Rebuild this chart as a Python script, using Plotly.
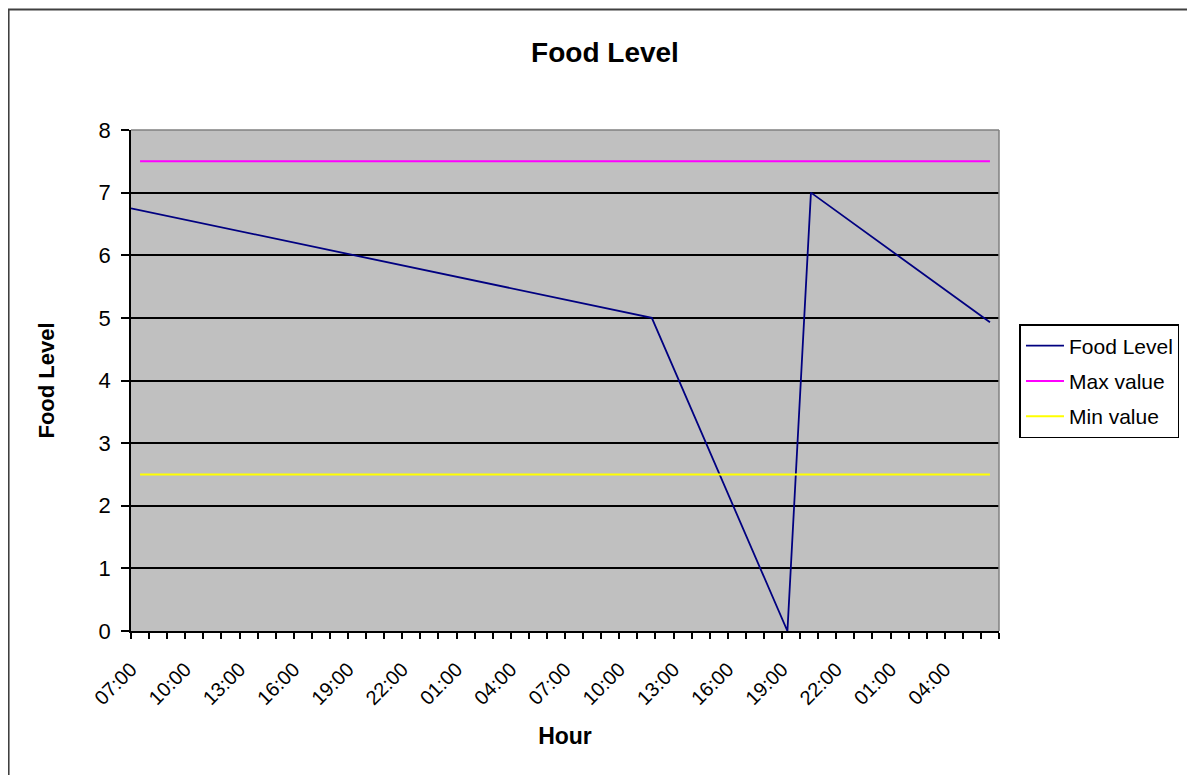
import plotly.graph_objects as go

# ---- data ----
hour_categories = [
    "07:00", "08:00", "09:00", "10:00", "11:00", "12:00", "13:00", "14:00",
    "15:00", "16:00", "17:00", "18:00", "19:00", "20:00", "21:00", "22:00",
    "23:00", "00:00", "01:00", "02:00", "03:00", "04:00", "05:00", "06:00",
    "07:00", "08:00", "09:00", "10:00", "11:00", "12:00", "13:00", "14:00",
    "15:00", "16:00", "17:00", "18:00", "19:00", "20:00", "21:00", "22:00",
    "23:00", "00:00", "01:00", "02:00", "03:00", "04:00", "05:00", "06:00",
]
tick_positions = [0, 3, 6, 9, 12, 15, 18, 21, 24, 27, 30, 33, 36, 39, 42, 45]
tick_labels = ["07:00", "10:00", "13:00", "16:00", "19:00", "22:00", "01:00", "04:00",
               "07:00", "10:00", "13:00", "16:00", "19:00", "22:00", "01:00", "04:00"]

# Food level vertices (x in hours from first category)
food_x = [-0.5, 28.3, 35.8, 37.1, 47.0]
food_y = [6.75, 5.0, 0.0, 7.0, 4.93]

category_index = list(range(len(hour_categories)))
max_values = [7.5] * len(hour_categories)
min_values = [2.5] * len(hour_categories)

FONT = "Liberation Sans, Arial, sans-serif"

fig = go.Figure()
fig.add_trace(go.Scatter(x=food_x, y=food_y, mode="lines", name="Food Level",
                         legendgroup="a",
                         line=dict(color="#000080", width=1.8)))
fig.add_trace(go.Scatter(x=category_index, y=max_values, mode="lines", name="Max value",
                         legendgroup="b",
                         line=dict(color="#FF00FF", width=2)))
fig.add_trace(go.Scatter(x=category_index, y=min_values, mode="lines", name="Min value",
                         legendgroup="c",
                         line=dict(color="#FFFF00", width=2)))

# page has an 8px body margin: figure origin is at (8, 8)
W, H = 1187, 767
L, T = 123, 122
R = W - (999.5 - 8)
B = H - (631 - 8)
pw = W - L - R
ph = H - T - B

label_shift = -0.499  # Excel-like placement of rotated labels

fig.update_layout(
    width=W, height=H,
    margin=dict(l=L, r=R, t=T, b=B, pad=0),
    paper_bgcolor="white",
    plot_bgcolor="#C0C0C0",
    font=dict(family=FONT, size=20, color="black"),
    title=dict(text="<b>Food Level</b>", x=(605 - 8) / W, xanchor="center",
               y=1 - (52 - 8) / H, yanchor="middle",
               font=dict(family=FONT, size=28, color="black")),
    showlegend=True,
    legend=dict(x=(1020 - 8 - L) / pw, y=1 - (324 - 8 - T) / ph,
                xanchor="left", yanchor="top",
                bgcolor="white", bordercolor="black", borderwidth=1.5,
                font=dict(family=FONT, size=21, color="black"),
                itemwidth=38, tracegroupgap=5),
    xaxis=dict(
        range=[-0.5, 47.5],
        tickmode="array", tickvals=[p + label_shift for p in tick_positions],
        ticktext=tick_labels,
        tickangle=-45, ticks="", showgrid=False, zeroline=False,
        showline=True, linecolor="black", linewidth=1.5,
        minor=dict(ticks="outside", tick0=-0.5, dtick=1, ticklen=6,
                   tickcolor="black", tickwidth=1.5, showgrid=False),
        tickfont=dict(family=FONT, size=20, color="black"),
        ticklabelstandoff=17,
        title=dict(text="<b>Hour</b>", standoff=20,
                   font=dict(family=FONT, size=23, color="black")),
    ),
    yaxis=dict(
        range=[0, 8], dtick=1, tick0=0,
        ticks="outside", ticklen=8, tickcolor="black", tickwidth=1.5,
        showgrid=True, gridcolor="black", gridwidth=1.5, zeroline=False,
        showline=True, linecolor="black", linewidth=1.5,
        tickfont=dict(family=FONT, size=22, color="black"),
        ticklabelstandoff=6,
        title=dict(text="<b>Food Level</b>", standoff=38,
                   font=dict(family=FONT, size=22, color="black")),
    ),
    shapes=[
        # plot area border (top/right grey)
        dict(type="line", xref="paper", yref="paper", x0=0, x1=1, y0=1, y1=1,
             line=dict(color="#808080", width=1.5), layer="above"),
        dict(type="line", xref="paper", yref="paper", x0=1, x1=1, y0=0, y1=1,
             line=dict(color="#808080", width=1.5), layer="above"),
        # chart area border
        dict(type="rect", xref="paper", yref="paper",
             x0=(8.5 - 8 - L) / pw, x1=1.4, y0=-0.5, y1=1 + (T - 1.5) / ph,
             line=dict(color="#404040", width=2), layer="below"),
    ],
)

fig.write_html("out.html")
